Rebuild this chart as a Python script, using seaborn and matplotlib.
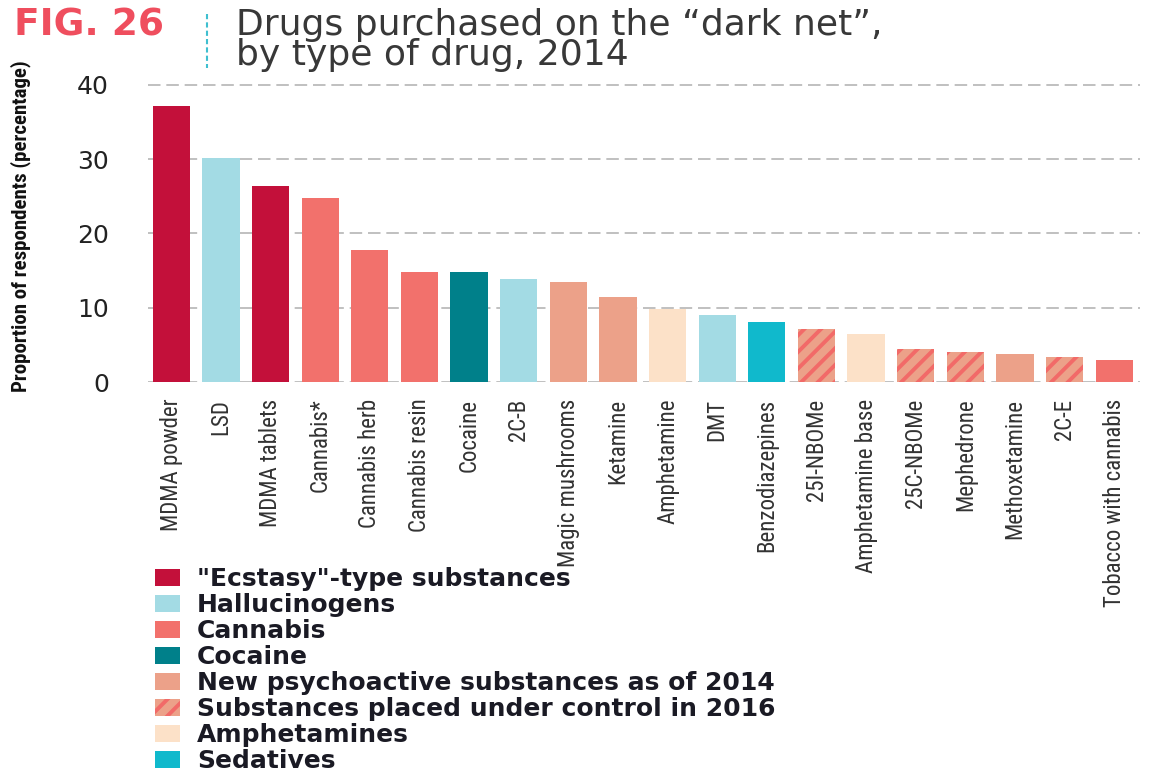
import matplotlib
matplotlib.use("Agg")
import matplotlib.pyplot as plt
from matplotlib import font_manager
from matplotlib.patches import Patch
from matplotlib.lines import Line2D
import seaborn as sns
import pandas as pd

# Survey results: share of respondents who bought each drug on the dark net
drugs = [
    "MDMA powder", "LSD", "MDMA tablets", "Cannabis*", "Cannabis herb",
    "Cannabis resin", "Cocaine", "2C-B", "Magic mushrooms", "Ketamine",
    "Amphetamine", "DMT", "Benzodiazepines", "25I-NBOMe", "Amphetamine base",
    "25C-NBOMe", "Mephedrone", "Methoxetamine", "2C-E", "Tobacco with cannabis",
]
shares = [37.1, 30.2, 26.4, 24.7, 17.7, 14.8, 14.8, 13.8, 13.5, 11.4,
          9.8, 9.0, 8.1, 7.2, 6.5, 4.5, 4.0, 3.8, 3.4, 3.0]

ECSTASY = '"Ecstasy"-type substances'
HALLU = "Hallucinogens"
CANNABIS = "Cannabis"
COCAINE = "Cocaine"
NPS = "New psychoactive substances as of 2014"
CONTROLLED = "Substances placed under control in 2016"
AMPH = "Amphetamines"
SEDATIVES = "Sedatives"

groups = [ECSTASY, HALLU, ECSTASY, CANNABIS, CANNABIS, CANNABIS, COCAINE, HALLU,
          NPS, NPS, AMPH, HALLU, SEDATIVES, CONTROLLED, AMPH, CONTROLLED,
          CONTROLLED, NPS, CONTROLLED, CANNABIS]

group_order = [ECSTASY, HALLU, CANNABIS, COCAINE, NPS, CONTROLLED, AMPH, SEDATIVES]
group_colors = ["#C3103A", "#A3DBE4", "#F2716C", "#00808A", "#ECA189",
                "#ECA189", "#FCE1C8", "#10B9CC"]
hatch_color = "#F26A68"
y_ticks = [0, 10, 20, 30, 40]


def narrow_font():
    """Pick an installed condensed sans face for the axis labels."""
    wanted = ["Liberation Sans Narrow", "Roboto Condensed", "Open Sans Condensed",
              "Noto Sans Condensed", "DejaVu Sans Condensed"]
    names = {f.name for f in font_manager.fontManager.ttflist}
    for w in wanted:
        if w in names:
            return {"family": w}
    for f in font_manager.fontManager.ttflist:
        if str(f.stretch) in ("condensed", "semi-condensed", "extra-condensed") or \
                "Condensed" in f.fname or "Narrow" in f.fname:
            return {"family": f.name, "fontstretch": f.stretch}
    return None


nf = narrow_font()
if nf is None:
    lab_kw = {"family": "DejaVu Sans"}
    lab_size, ylab_size = 13, 12
else:
    lab_kw = dict(nf)
    lab_size, ylab_size = 16.5, 15

df = pd.DataFrame({"drug": drugs, "share": shares, "group": groups})
palette = dict(zip(group_order, group_colors))

W, H = 1160, 771
fig = plt.figure(figsize=(W / 100, H / 100), dpi=100)
plt.rcParams["hatch.linewidth"] = 2.8

ymax = 40.3
ax_top = 382 - ymax * 7.43
ax = fig.add_axes([148 / W, 1 - 382 / H, (1140 - 148) / W, (382 - ax_top) / H])

sns.barplot(data=df, x="drug", y="share", hue="group", hue_order=group_order,
            palette=palette, dodge=False, width=0.75, legend=False,
            saturation=1, linewidth=0, ax=ax, zorder=3)

# hatch the bars of substances scheduled in 2016
for level, container in zip(group_order, ax.containers):
    if level == CONTROLLED:
        for bar in container:
            bar.set_hatch("//")
            bar.set_edgecolor(hatch_color)
            bar.set_linewidth(0)

ax.set_xlim(-0.47, len(drugs) - 1 + 0.52)
ax.set_ylim(0, ymax)
ax.set_yticks(y_ticks)
ax.yaxis.grid(True, color="#b5b5b5", linestyle=(0, (7.5, 3.5)), linewidth=1.2, zorder=0)
ax.xaxis.grid(False)
ax.set_axisbelow(True)
for s in ax.spines.values():
    s.set_visible(False)
ax.set_facecolor("white")

ax.tick_params(axis="y", length=0, pad=28, labelsize=18, labelcolor="#222222")
ax.tick_params(axis="x", length=0, pad=12)
ax.set_xticks(range(len(drugs)))
ax.set_xticklabels(drugs, rotation=90, va="top", ha="center",
                   fontsize=lab_size, color="#333333", **lab_kw)
ax.set_xlabel("")
ax.set_ylabel("Proportion of respondents (percentage)",
              fontweight="bold", fontsize=ylab_size, color="#111111", **lab_kw)
ax.yaxis.set_label_coords(-0.118, 0.52)

# header
fig.text(14 / W, 1 - 8 / H, "FIG. 26", fontsize=27, fontweight="bold",
         color="#EF4E5E", va="top", ha="left")
fig.text(236 / W, 1 - 8 / H, "Drugs purchased on the \u201cdark net\u201d,\nby type of drug, 2014",
         fontsize=26, color="#383838", va="top", ha="left",
         linespacing=0.86)
fig.add_artist(Line2D([207 / W, 207 / W], [1 - 14 / H, 1 - 68 / H], transform=fig.transFigure,
                      color="#3FBFD0", linewidth=1.5, linestyle=(0, (2.5, 1.5))))

# legend
handles = []
for name, col in zip(group_order, group_colors):
    if name == CONTROLLED:
        handles.append(Patch(facecolor=col, edgecolor=hatch_color, hatch="//",
                             linewidth=0, label=name))
    else:
        handles.append(Patch(facecolor=col, linewidth=0, label=name))
fs = 18
fpx = fs * 100 / 72
fig.legend(handles=handles, loc="upper left", bbox_to_anchor=(155 / W, 1 - 567 / H),
           frameon=False, borderpad=0, borderaxespad=0,
           prop={"weight": "bold", "size": fs},
           handlelength=25 / fpx, handleheight=17 / fpx,
           handletextpad=17 / fpx, labelspacing=0.08,
           labelcolor="#1a1a24")

fig.savefig("out.png", dpi=100, facecolor="white")
